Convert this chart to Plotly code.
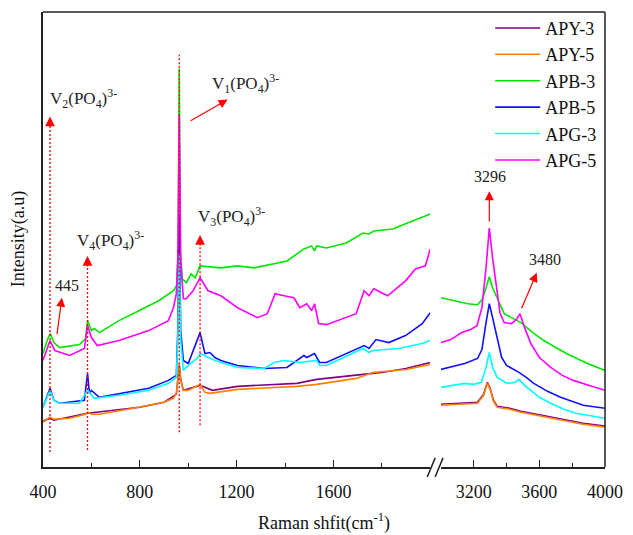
import plotly.graph_objects as go

# ---------------- data ----------------
# Left segment (400-2000 cm-1) and right segment (3000-4000 cm-1)
apy3_x_l = [400, 429, 445, 584, 800, 900, 951, 957, 963, 969, 980, 1049, 1100, 1204, 1449, 1531, 1694, 1800, 1900, 2000]
apy3_y_l = [46, 49, 47, 54, 60, 65, 73, 88, 102, 88, 77, 82, 77, 81, 84, 88, 92, 95, 99, 105]
apy3_x_r = [3000, 3150, 3223, 3260, 3283, 3300, 3320, 3343, 3420, 3488, 3580, 3669, 3760, 3867, 4000]
apy3_y_r = [63, 64, 65, 73, 85, 79, 67, 61, 59, 56, 53, 50, 47, 44, 41]

apy5_x_l = [400, 429, 445, 510, 576, 584, 600, 633, 796, 900, 939, 951, 957, 963, 969, 980, 1000, 1049, 1069, 1090, 1204, 1449, 1531, 1694, 1763, 1900, 2000]
apy5_y_l = [45, 50, 48, 49, 53, 55, 53, 53, 60, 65, 69, 74, 87, 104, 87, 77, 77, 83, 75, 74, 78, 81, 83, 89, 95, 98, 103]
apy5_x_r = [3000, 3150, 3223, 3260, 3283, 3300, 3320, 3343, 3420, 3488, 3580, 3669, 3760, 3867, 4000]
apy5_y_r = [62, 63, 64, 72, 84, 78, 66, 60, 58, 55, 52, 49, 46, 43, 40]

apb3_x_l = [400, 420, 430, 445, 469, 551, 576, 584, 600, 612, 633, 714, 796, 878, 939, 952, 958, 963, 968, 975, 992, 1012, 1029, 1049, 1135, 1204, 1273, 1408, 1478, 1510, 1522, 1531, 1571, 1653, 1722, 1747, 1767, 1845, 1927, 2000]
apb3_y_l = [114, 129, 134, 125, 120, 123, 129, 147, 137, 139, 135, 147, 157, 167, 177, 182, 217, 400, 217, 189, 185, 194, 190, 202, 200, 202, 200, 207, 219, 222, 217, 222, 220, 225, 235, 234, 237, 239, 247, 254]
apb3_x_r = [3000, 3080, 3163, 3223, 3250, 3275, 3295, 3315, 3343, 3386, 3430, 3488, 3560, 3627, 3700, 3765, 3880, 4000]
apb3_y_r = [170, 167, 164, 163, 168, 180, 191, 180, 169, 154, 150, 145, 135, 127, 120, 114, 105, 97]

apb5_x_l = [400, 429, 445, 469, 571, 584, 592, 600, 633, 837, 918, 951, 957, 963, 969, 980, 1000, 1049, 1069, 1090, 1110, 1135, 1204, 1314, 1408, 1478, 1490, 1510, 1522, 1543, 1571, 1727, 1747, 1776, 1829, 1898, 1967, 2000]
apb5_y_l = [60, 79, 67, 64, 67, 94, 74, 77, 70, 79, 87, 92, 137, 254, 137, 107, 104, 135, 114, 115, 110, 107, 102, 99, 100, 112, 110, 112, 114, 105, 105, 122, 119, 128, 125, 132, 144, 155]
apb5_x_r = [3000, 3145, 3223, 3250, 3275, 3295, 3315, 3343, 3370, 3400, 3476, 3520, 3566, 3650, 3729, 3867, 4000]
apb5_y_r = [98, 104, 109, 118, 145, 164, 150, 130, 110, 102, 95, 90, 84, 76, 70, 62, 59]

apg3_x_l = [400, 429, 445, 469, 551, 584, 612, 714, 837, 918, 951, 957, 963, 969, 980, 1000, 1041, 1049, 1110, 1204, 1314, 1355, 1396, 1461, 1531, 1543, 1571, 1722, 1747, 1763, 1869, 1967, 2000]
apg3_y_l = [60, 77, 67, 64, 64, 77, 69, 72, 77, 84, 90, 127, 214, 127, 97, 102, 110, 114, 107, 100, 99, 105, 107, 105, 107, 102, 102, 119, 115, 117, 119, 124, 127]
apg3_x_r = [3000, 3080, 3145, 3200, 3247, 3275, 3295, 3315, 3343, 3404, 3450, 3476, 3510, 3548, 3600, 3669, 3750, 3825, 4000]
apg3_y_r = [80, 82, 84, 83, 85, 100, 115, 100, 90, 84, 85, 88, 82, 77, 70, 64, 58, 54, 49]

apg5_x_l = [400, 429, 449, 510, 571, 584, 600, 624, 714, 837, 918, 939, 951, 957, 963, 969, 980, 992, 1020, 1049, 1082, 1135, 1204, 1286, 1327, 1359, 1396, 1437, 1461, 1490, 1510, 1522, 1539, 1571, 1694, 1727, 1747, 1767, 1824, 1898, 1939, 1980, 2000]
apg5_y_l = [107, 127, 117, 112, 119, 142, 130, 122, 127, 137, 147, 160, 174, 207, 354, 207, 169, 169, 177, 190, 177, 172, 160, 150, 154, 174, 172, 170, 160, 164, 157, 164, 144, 143, 154, 177, 172, 179, 172, 187, 199, 202, 219]
apg5_x_r = [3000, 3060, 3127, 3180, 3220, 3250, 3275, 3295, 3315, 3337, 3360, 3385, 3430, 3460, 3482, 3510, 3548, 3600, 3669, 3740, 3807, 3900, 4000]
apg5_y_r = [125, 128, 135, 138, 142, 160, 200, 240, 210, 184, 155, 145, 144, 148, 154, 140, 124, 110, 100, 92, 87, 82, 77]

series_names = ["APY-3", "APY-5", "APB-3", "APB-5", "APG-3", "APG-5"]
series_colors = ["#800080", "#ff8000", "#00e600", "#1010ff", "#00ffff", "#ff00ff"]
series_left = [(apy3_x_l, apy3_y_l), (apy5_x_l, apy5_y_l), (apb3_x_l, apb3_y_l),
               (apb5_x_l, apb5_y_l), (apg3_x_l, apg3_y_l), (apg5_x_l, apg5_y_l)]
series_right = [(apy3_x_r, apy3_y_r), (apy5_x_r, apy5_y_r), (apb3_x_r, apb3_y_r),
                (apb5_x_r, apb5_y_r), (apg3_x_r, apg3_y_r), (apg5_x_r, apg5_y_r)]

# peak marker positions (data coordinates)
band_x = [429, 584, 963, 1049]
band_line_bottom = [15, 17, 35, 42]
band_line_top = [352, 212, 414, 233]
band_has_head = [True, True, False, True]

left_ticks = [400, 800, 1200, 1600]
left_minor = [600, 1000, 1400, 1800]
right_ticks = [3200, 3600, 4000]
right_minor = [3400, 3800]

# ---------------- figure ----------------
fig = go.Figure()
for i, name in enumerate(series_names):
    xl, yl = series_left[i]
    xr, yr = series_right[i]
    fig.add_trace(go.Scatter(x=xl, y=yl, mode="lines", name=name, legendgroup=name,
                             line=dict(color=series_colors[i], width=1.6), xaxis="x", yaxis="y"))
    fig.add_trace(go.Scatter(x=xr, y=yr, mode="lines", name=name, legendgroup=name, showlegend=False,
                             line=dict(color=series_colors[i], width=1.6), xaxis="x2", yaxis="y"))

serif = "Liberation Serif"
red = "#ff0000"

shapes = []
annotations = []
for bx, b0, b1, head in zip(band_x, band_line_bottom, band_line_top, band_has_head):
    shapes.append(dict(type="line", xref="x", yref="y", x0=bx, x1=bx, y0=b0, y1=b1 - (10 if head else 0),
                       line=dict(color=red, width=1.3, dash="2px,2px")))
    if head:
        annotations.append(dict(x=bx, y=b1, xref="x", yref="y", ax=0, ay=12, text="",
                                showarrow=True, arrowhead=2, arrowsize=1.5, arrowwidth=1.3, arrowcolor=red))

# solid arrows (tail -> tip, data coords)
arrows = [
    dict(xref="x", x=478, y=170, ax=457, ay=132),
    dict(xref="x", x=1163, y=369, ax=1004, ay=347),
    dict(xref="x2", x=3295, y=277, ax=3295, ay=245),
    dict(xref="x2", x=3584, y=195, ax=3488, ay=158),
]
for a in arrows:
    annotations.append(dict(x=a["x"], y=a["y"], ax=a["ax"], ay=a["ay"], xref=a["xref"], yref="y",
                            axref=a["xref"], ayref="y", text="", showarrow=True, arrowhead=2,
                            arrowsize=1.5, arrowwidth=1.2, arrowcolor=red))

labels = [
    ("x", 566, 370, "V<sub>2</sub>(PO<sub>4</sub>)<sup>3-</sup>", 17),
    ("x", 680, 227, "V<sub>4</sub>(PO<sub>4</sub>)<sup>3-</sup>", 17),
    ("x", 1235, 385, "V<sub>1</sub>(PO<sub>4</sub>)<sup>3-</sup>", 17),
    ("x", 1178, 252, "V<sub>3</sub>(PO<sub>4</sub>)<sup>3-</sup>", 17),
    ("x", 498, 182, "445", 16),
    ("x2", 3300, 292, "3296", 16),
    ("x2", 3632, 208, "3480", 16),
]
for xr_, lx, ly, txt, fs in labels:
    annotations.append(dict(x=lx, y=ly, xref=xr_, yref="y", text=txt, showarrow=False,
                            font=dict(family=serif, size=fs, color="#222"), xanchor="center", yanchor="middle"))

# axis titles
annotations.append(dict(x=0.5, y=-0.12, xref="paper", yref="paper", text="Raman shfit(cm<sup>-1</sup>)",
                        showarrow=False, font=dict(family=serif, size=18, color="#111"),
                        xanchor="center", yanchor="middle"))
annotations.append(dict(x=-0.043, y=0.5, xref="paper", yref="paper", text="Intensity(a.u)", textangle=-90,
                        showarrow=False, font=dict(family=serif, size=18, color="#111"),
                        xanchor="center", yanchor="middle"))

# frame (top and right) and axis-break marks
shapes.append(dict(type="line", xref="paper", yref="paper", x0=0, x1=1, y0=1, y1=1, line=dict(color="#222", width=1.5)))
shapes.append(dict(type="line", xref="paper", yref="paper", x0=1, x1=1, y0=0, y1=1, line=dict(color="#222", width=1.5)))
for bx0 in [0.6837, 0.6977]:
    shapes.append(dict(type="line", xref="paper", yref="paper", x0=bx0, x1=bx0 + 0.0141, y0=-0.022, y1=0.02,
                       line=dict(color="#222", width=1.5)))

axis_common = dict(showline=True, linecolor="#222", linewidth=1.5, ticks="inside", ticklen=7, tickwidth=1.3,
                   tickcolor="#222", showgrid=False, zeroline=False, anchor="y",
                   tickfont=dict(family=serif, size=18, color="#111"), ticklabelstandoff=8)

fig.update_layout(
    width=633, height=535,
    margin=dict(l=43, r=21, t=10, b=68),
    paper_bgcolor="white", plot_bgcolor="white",
    font=dict(family=serif),
    xaxis=dict(domain=[0, 0.689], range=[400, 2000], tickmode="array", tickvals=left_ticks,
               minor=dict(tickmode="array", tickvals=left_minor, ticks="inside", ticklen=4, tickcolor="#222"),
               **axis_common),
    xaxis2=dict(domain=[0.708, 1], range=[3000, 4000], tickmode="array", tickvals=right_ticks,
                minor=dict(tickmode="array", tickvals=right_minor, ticks="inside", ticklen=4, tickcolor="#222"),
                **axis_common),
    yaxis=dict(range=[0, 457], showline=True, linecolor="#222", linewidth=1.5, showticklabels=False,
               ticks="", showgrid=False, zeroline=False),
    legend=dict(x=0.995, y=1.005, xanchor="right", yanchor="top", bgcolor="rgba(0,0,0,0)",
                font=dict(family=serif, size=18, color="#111"), tracegroupgap=0, itemwidth=45),
    shapes=shapes, annotations=annotations, showlegend=True,
)

fig.write_html("out.html")
